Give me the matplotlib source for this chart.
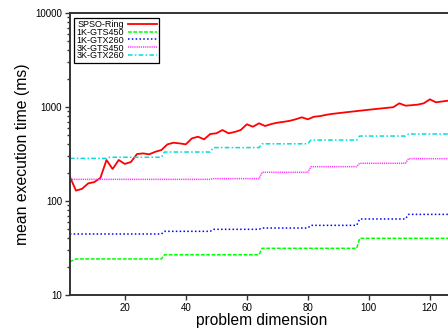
import matplotlib
matplotlib.use("Agg")
import matplotlib.pyplot as plt

plt.rcParams["font.family"] = ["Liberation Sans", "DejaVu Sans"]

# SPSO-Ring (every second dimension)
ring_dim = [2, 4, 6, 8, 10, 12, 14, 16, 18, 20, 22, 24, 26, 28, 30, 32,
            34, 36, 38, 40, 42, 44, 46, 48, 50, 52, 54, 56, 58, 60, 62, 64,
            66, 68, 70, 72, 74, 76, 78, 80, 82, 84, 86, 88, 90, 92, 94, 96,
            98, 100, 102, 104, 106, 108, 110, 112, 114, 116, 118, 120, 122, 124, 126, 128]
ring_ms = [181, 129, 135, 154, 159, 176, 273, 219, 273, 248, 260, 316, 321, 314, 334, 349,
           401, 417, 410, 401, 464, 483, 453, 516, 525, 569, 525, 542, 569, 655, 617, 671,
           628, 659, 681, 695, 712, 740, 777, 740, 788, 800, 826, 845, 860, 875, 890, 905,
           920, 935, 950, 965, 980, 995, 1095, 1033, 1045, 1060, 1095, 1207, 1122, 1145, 1167, 1180]

# GPU variants: corner points of the step curves
gts450_1k_dim = [2, 4, 32, 33, 64, 65, 96, 97, 128]
gts450_1k_ms = [22.6, 24.2, 24.2, 26.8, 26.8, 31.4, 31.4, 40.1, 40.1]

gtx260_1k_dim = [2, 32, 33, 48, 49, 64, 65, 80, 81, 96, 97, 112, 113, 128]
gtx260_1k_ms = [44.6, 44.6, 47.6, 47.6, 50.0, 50.0, 51.6, 51.6, 55.1, 55.1, 64.4, 64.4, 72.1, 72.1]

gts450_3k_dim = [2, 48, 49, 64, 65, 80, 81, 96, 97, 112, 113, 128]
gts450_3k_ms = [170, 170, 173, 173, 202, 202, 232, 232, 252, 252, 282, 282]

gtx260_3k_dim = [2, 14, 15, 32, 33, 48, 49, 64, 65, 80, 81, 96, 97, 112, 113, 128]
gtx260_3k_ms = [284, 284, 292, 292, 332, 332, 370, 370, 406, 406, 445, 445, 491, 491, 516, 516]

fig = plt.figure(figsize=(4.48, 3.33), dpi=100)
ax = fig.add_axes([0.156, 0.114, 0.858, 0.847])

ax.plot(ring_dim, ring_ms, color="#ff0000", lw=1.3, label="SPSO-Ring")
ax.plot(gts450_1k_dim, gts450_1k_ms, color="#00ff00", lw=1.1, ls=(0, (2.5, 1)), label="1K-GTS450")
ax.plot(gtx260_1k_dim, gtx260_1k_ms, color="#0000ff", lw=1.1, ls=(0, (1, 1.5)), label="1K-GTX260")
ax.plot(gts450_3k_dim, gts450_3k_ms, color="#ff33ff", lw=1.1, ls=(0, (0.8, 0.6)), label="3K-GTS450")
ax.plot(gtx260_3k_dim, gtx260_3k_ms, color="#00dddd", lw=1.1, ls=(0, (3, 1.5, 1, 1.5)), label="3K-GTX260")

ax.set_yscale("log")
ax.set_xlim(2, 128)
ax.set_ylim(10, 10000)
ax.set_xticks([20, 40, 60, 80, 100, 120])
ax.set_yticks([10, 100, 1000, 10000], ["10", "100", "1000", "10000"])
ax.tick_params(axis="both", which="both", direction="out", labelsize=7, color="#333333", width=1)
ax.tick_params(axis="both", which="major", length=3.5, pad=2)
ax.tick_params(axis="y", which="minor", length=2)
ax.tick_params(axis="y", which="minor", labelleft=False)

for sp in ax.spines.values():
    sp.set_linewidth(1.4)
    sp.set_color("#333333")

ax.set_xlabel("problem dimension", fontsize=11.2, labelpad=0)
ax.set_ylabel("mean execution time (ms)", fontsize=11.3, labelpad=4)

leg = ax.legend(loc="upper left", fontsize=6.5, markerfirst=False, handlelength=3.2,
                labelspacing=-0.12, borderpad=0.25, handletextpad=0.45,
                borderaxespad=0.5, fancybox=False, framealpha=1)
leg.get_frame().set_edgecolor("#000000")
leg.get_frame().set_linewidth(0.9)

fig.savefig("out.png", dpi=100)
